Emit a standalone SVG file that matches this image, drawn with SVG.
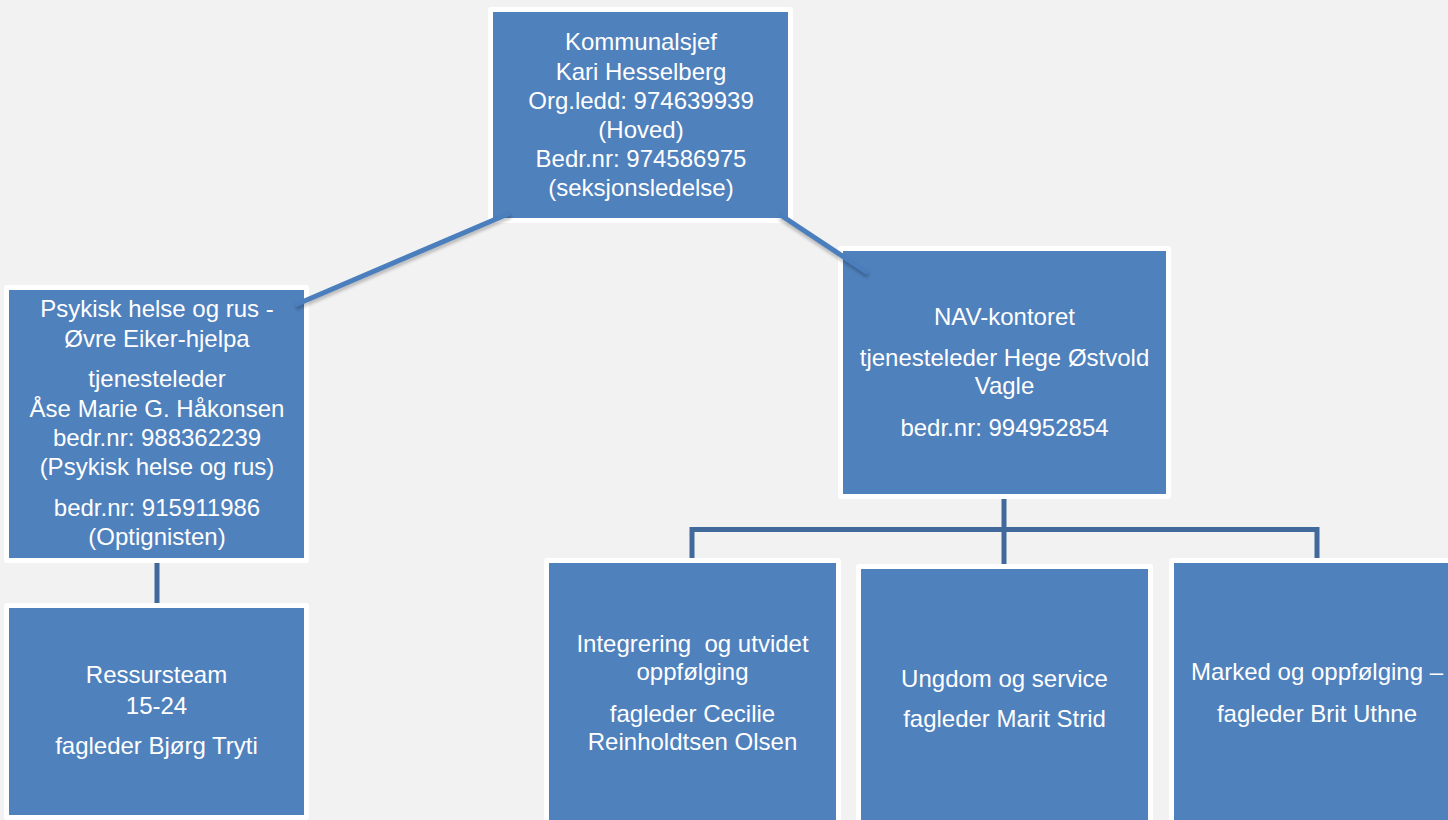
<svg xmlns="http://www.w3.org/2000/svg" width="1448" height="820" viewBox="0 0 1448 820">
<defs>
<style>
.outer{fill:#FFFFFF;}
.box{fill:#4F81BD;}
.t{font-family:"Liberation Sans",Arial,sans-serif;font-size:24px;fill:#FFFFFF;text-anchor:middle;white-space:pre;}
.h{stroke:#41699C;stroke-width:5;fill:none;stroke-linejoin:miter;}
.d{stroke:#4A7EBD;stroke-width:5;fill:none;stroke-linecap:butt;}
.ds{stroke:#000000;stroke-opacity:0.22;stroke-width:5;fill:none;}
</style>
<filter id="blur" x="-10%" y="-10%" width="120%" height="120%">
<feGaussianBlur stdDeviation="1.5"/>
</filter>
</defs>
<rect x="0" y="0" width="1448" height="820" fill="#F2F2F2"/>

<g id="node-kommunalsjef">
<rect class="outer" x="488" y="7" width="305" height="216" rx="3"/>
<rect class="box" x="493" y="12" width="295" height="206"/>
<text class="t" x="641" y="50">Kommunalsjef</text>
<text class="t" x="641" y="80">Kari Hesselberg</text>
<text class="t" x="641" y="109">Org.ledd: 974639939</text>
<text class="t" x="641" y="138">(Hoved)</text>
<text class="t" x="641" y="167">Bedr.nr: 974586975</text>
<text class="t" x="641" y="196">(seksjonsledelse)</text>
</g>

<g id="node-psykisk">
<rect class="outer" x="4" y="285" width="305" height="278" rx="3"/>
<rect class="box" x="9" y="290" width="295" height="268"/>
<text class="t" x="157" y="317">Psykisk helse og rus -</text>
<text class="t" x="157" y="347">Øvre Eiker-hjelpa</text>
<text class="t" x="157" y="387">tjenesteleder</text>
<text class="t" x="157" y="417">Åse Marie G. Håkonsen</text>
<text class="t" x="157" y="446">bedr.nr: 988362239</text>
<text class="t" x="157" y="475">(Psykisk helse og rus)</text>
<text class="t" x="157" y="516">bedr.nr: 915911986</text>
<text class="t" x="157" y="545">(Optignisten)</text>
</g>

<g id="node-nav">
<rect class="outer" x="838" y="246" width="333" height="253" rx="3"/>
<rect class="box" x="843" y="251" width="323" height="243"/>
<text class="t" x="1004.5" y="325">NAV-kontoret</text>
<text class="t" x="1004.5" y="366">tjenesteleder Hege Østvold</text>
<text class="t" x="1004.5" y="394">Vagle</text>
<text class="t" x="1004.5" y="436">bedr.nr: 994952854</text>
</g>

<g id="node-ressursteam">
<rect class="outer" x="4" y="603" width="305" height="217" rx="3"/>
<rect class="box" x="9" y="608" width="295" height="207"/>
<text class="t" x="156.5" y="683">Ressursteam</text>
<text class="t" x="156.5" y="714">15-24</text>
<text class="t" x="156.5" y="754">fagleder Bjørg Tryti</text>
</g>

<g id="node-integrering">
<rect class="outer" x="544" y="558" width="297" height="270" rx="3"/>
<rect class="box" x="549" y="563" width="287" height="265"/>
<text class="t" x="692.5" y="652">Integrering  og utvidet</text>
<text class="t" x="692.5" y="680">oppfølging</text>
<text class="t" x="692.5" y="722">fagleder Cecilie</text>
<text class="t" x="692.5" y="750">Reinholdtsen Olsen</text>
</g>

<g id="node-ungdom">
<rect class="outer" x="856" y="564" width="297" height="264" rx="3"/>
<rect class="box" x="861" y="569" width="287" height="259"/>
<text class="t" x="1004.5" y="687">Ungdom og service</text>
<text class="t" x="1004.5" y="727">fagleder Marit Strid</text>
</g>

<g id="node-marked">
<rect class="outer" x="1169" y="558" width="297" height="270" rx="3"/>
<rect class="box" x="1174" y="563" width="287" height="265"/>
<text class="t" x="1317" y="680">Marked og oppfølging –</text>
<text class="t" x="1317" y="722">fagleder Brit Uthne</text>
</g>

<g id="connectors">
<line class="ds" x1="511" y1="216" x2="296" y2="308" filter="url(#blur)"/>
<line class="ds" x1="780" y1="218" x2="868" y2="276" filter="url(#blur)"/>
<line class="d" x1="510" y1="213" x2="295" y2="305"/>
<line class="d" x1="779" y1="214" x2="868" y2="273"/>
<line class="h" x1="157" y1="563" x2="157" y2="603"/>
<line class="h" x1="1004" y1="499" x2="1004" y2="564"/>
<polyline class="h" points="692,558 692,529.5 1317,529.5 1317,558"/>
</g>
</svg>
